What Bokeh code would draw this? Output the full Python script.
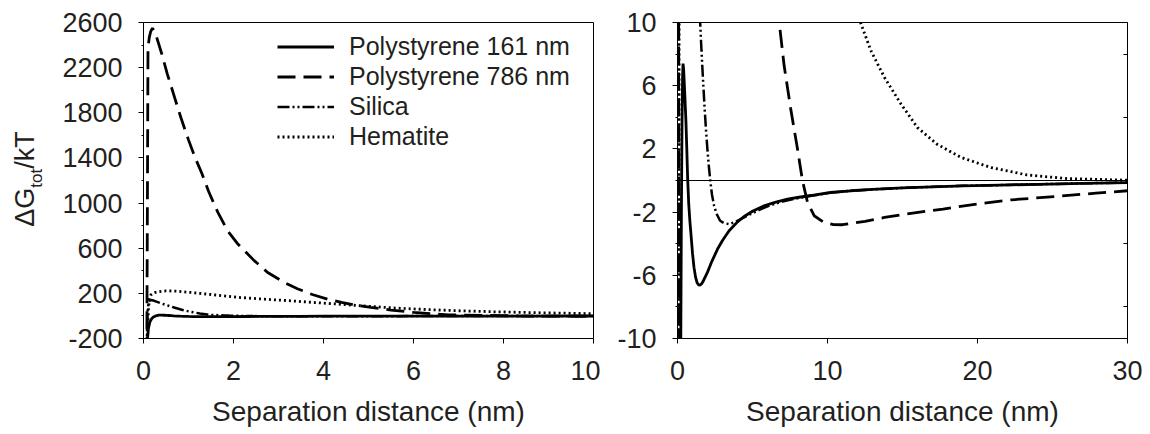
from bokeh.embed import file_html
from bokeh.layouts import row
from bokeh.models import (ColumnDataSource, Div, FixedTicker, Legend,
                          LegendItem, LinearAxis, Range1d, Span)
from bokeh.plotting import figure
from bokeh.resources import INLINE

# Total interaction energy (ΔG_tot / kT) against separation distance (nm)

ps161_x = [0.05, 0.07, 0.09, 0.11, 0.14, 0.18, 0.22, 0.26, 0.30, 0.34, 0.37,
           0.41, 0.46, 0.51, 0.56, 0.62, 0.67, 0.75, 0.82, 0.89, 1.0, 1.1,
           1.2, 1.3, 1.4, 1.5, 1.6, 1.7, 1.8, 1.9, 2.0, 2.3, 2.67, 3.0,
           3.44, 4.0, 4.44, 5.0, 5.78, 6.5, 7.33, 8.1, 8.89, 10.2, 11.55,
           13.0, 15.0, 17.0, 19.0, 21.5, 24.0, 27.0, 30.0]
ps161_y = [-900, -420, -200, -110, -55, -25, -10, -2, 3.5, 6.6, 7.4,
           7.0, 6.0, 4.9, 3.8, 2.0, 0.3, -1.5, -2.5, -3.3, -4.6, -5.5,
           -6.1, -6.45, -6.6, -6.62, -6.55, -6.4, -6.2, -6.0, -5.8, -5.1,
           -4.34, -3.8, -3.18, -2.62, -2.28, -1.95, -1.6, -1.38, -1.18,
           -1.06, -0.95, -0.76, -0.65, -0.56, -0.47, -0.4, -0.34, -0.29,
           -0.24, -0.18, -0.13]

ps786_x = [0.05, 0.07, 0.085, 0.1, 0.13, 0.16, 0.2, 0.27, 0.4, 0.53, 0.68,
           0.83, 1.0, 1.15, 1.3, 1.45, 1.65, 1.87, 2.09, 2.46, 2.76, 3.12,
           3.42, 3.75, 4.09, 4.4, 4.68, 5.05, 5.5, 6.0, 6.4, 6.78, 7.11,
           7.55, 8.0, 8.33, 8.67, 9.11, 9.78, 10.4, 11.0, 11.55, 12.5,
           13.8, 15.2, 16.5, 17.7, 19.7, 22.3, 25.2, 27.9, 30.0]
ps786_y = [-1500, -600, 800, 2380, 2470, 2520, 2550, 2497, 2330, 2143,
           1950, 1758, 1560, 1400, 1260, 1100, 920, 754, 640, 490, 385,
           298, 241, 190, 149, 120, 98, 76, 52, 31, 19, 10, 7.26, 4.52,
           1.99, 0.0, -1.39, -2.23, -2.66, -2.79, -2.8, -2.72, -2.58,
           -2.34, -2.13, -1.96, -1.81, -1.52, -1.22, -1.01, -0.80, -0.65]

silica_x = [0.05, 0.07, 0.09, 0.11, 0.14, 0.17, 0.24, 0.35, 0.5, 0.68,
            0.85, 1.05, 1.25, 1.42, 1.51, 1.6, 1.7, 1.8, 1.9, 2.0, 2.1,
            2.2, 2.3, 2.44, 2.6, 2.84, 3.1, 3.44, 3.8, 4.22, 4.6, 5.11,
            5.6, 6.22, 7.0, 8.0, 8.9, 10.2, 11.55, 13.0, 15.0, 17.0, 19.0,
            21.5, 24.0, 27.0, 30.0]
silica_y = [-1200, -300, 40, 120, 138, 141, 134, 118, 97, 75, 55, 36, 22,
            13, 10, 8.2, 6.4, 4.7, 3.2, 1.9, 0.8, -0.15, -0.9, -1.6, -2.1,
            -2.55, -2.7, -2.76, -2.65, -2.44, -2.25, -2.02, -1.8, -1.56,
            -1.33, -1.12, -0.97, -0.77, -0.65, -0.56, -0.47, -0.4, -0.34,
            -0.29, -0.24, -0.18, -0.13]

hematite_x = [0.05, 0.07, 0.09, 0.11, 0.13, 0.16, 0.2, 0.25, 0.35, 0.5,
              0.7, 1.05, 1.5, 2.16, 2.7, 3.27, 3.8, 4.38, 5.05, 5.6, 6.31,
              7.0, 7.79, 8.8, 10.0, 11.0, 12.2, 12.9, 13.8, 14.9, 16.0,
              17.3, 18.9, 20.9, 23.3, 26.0, 30.0]
hematite_y = [-1500, -500, -120, 60, 150, 185, 198, 207, 216, 222, 220,
              208, 190, 163, 148, 134, 119, 103, 84, 70, 56, 46, 37, 28,
              20, 14.5, 10, 8.2, 6.52, 4.84, 3.35, 2.3, 1.46, 0.82, 0.35,
              0.12, 0.02]

series_names = ["Polystyrene 161 nm", "Polystyrene 786 nm", "Silica", "Hematite"]

left_xticks = [0, 2, 4, 6, 8, 10]
left_yticks = [-200, 200, 600, 1000, 1400, 1800, 2200, 2600]
left_yminor = [0, 400, 800, 1200, 1600, 2000, 2400]
right_xticks = [0, 10, 20, 30]
right_yticks = [-10, -6, -2, 2, 6, 10]
right_yminor = [-8, -4, 0, 4, 8]

FONT = "Liberation Sans"
INK = "#231f20"
H = 434
TOP, BOTTOM = 22, 96

line_styles = [
    dict(line_dash="solid", line_width=2.8),
    dict(line_dash="18 8", line_width=2.8),
    dict(line_dash="12 3 2 3 2 3", line_width=2.5),
    dict(line_dash="2 3", line_width=2.8),
]

sources = [
    ColumnDataSource(dict(x=ps161_x, y=ps161_y)),
    ColumnDataSource(dict(x=ps786_x, y=ps786_y)),
    ColumnDataSource(dict(x=silica_x, y=silica_y)),
    ColumnDataSource(dict(x=hematite_x, y=hematite_y)),
]


def hyphen_labels(ticks):
    # plain hyphen-minus for negative tick labels
    return {t: str(t) for t in ticks if t < 0}


def panel(width, border_left, border_right, x_end, xticks, yr, yticks, yminor):
    p = figure(width=width, height=H, x_range=Range1d(0, x_end),
               y_range=Range1d(*yr), output_backend="svg",
               toolbar_location=None, min_border_left=border_left,
               min_border_right=border_right, min_border_top=TOP,
               min_border_bottom=BOTTOM)
    p.grid.visible = False
    p.outline_line_color = "black"
    p.outline_line_width = 1
    p.background_fill_color = "white"
    p.border_fill_color = "white"

    xa, ya = p.xaxis[0], p.yaxis[0]
    xa.ticker = FixedTicker(ticks=xticks)
    ya.ticker = FixedTicker(ticks=yticks, minor_ticks=yminor)
    ya.major_label_overrides = hyphen_labels(yticks)
    for ax in (xa, ya):
        ax.axis_line_color = "black"
        ax.axis_line_width = 1
        ax.major_tick_line_color = "black"
        ax.major_tick_out = 5
        ax.major_tick_in = 0
        ax.major_label_text_font = FONT
        ax.major_label_text_font_size = "27px"
        ax.major_label_text_color = INK
    xa.major_label_standoff = 17
    ya.major_label_standoff = 16
    xa.minor_tick_line_color = None
    ya.minor_tick_line_color = "black"
    ya.minor_tick_out = 2
    ya.minor_tick_in = 0

    xa.axis_label = "Separation distance (nm)"
    xa.axis_label_text_font = FONT
    xa.axis_label_text_font_size = "28px"
    xa.axis_label_text_font_style = "normal"
    xa.axis_label_text_color = INK
    xa.axis_label_standoff = 13

    renderers = []
    for src, st in zip(sources, line_styles):
        r = p.line("x", "y", source=src, line_color="black", **st)
        renderers.append(r)
    return p, renderers


# Left panel: full energy range
p1, r1 = panel(550, 93, 7, 10, left_xticks, (-200, 2600), left_yticks, left_yminor)

legend = Legend(
    items=[LegendItem(label=n, renderers=[r]) for n, r in zip(series_names, r1)],
    location=(134, 187), orientation="vertical",
    glyph_width=57, glyph_height=29, label_height=29, label_standoff=15,
    spacing=1, padding=0, margin=0, border_line_color=None,
    background_fill_alpha=0, label_text_font=FONT,
    label_text_font_size="25px", label_text_color=INK)
p1.add_layout(legend)

# Vertical y-axis title with subscript
ylabel = Div(
    text=(
        '<div style="position:absolute; left:25px; top:179px; '
        'transform:translate(-50%,-50%) rotate(-90deg); white-space:nowrap; '
        f'font-family:\'{FONT}\'; font-size:27px; line-height:1; color:{INK};">'
        'ΔG<span style="font-size:17px; position:relative; top:8px;">tot</span>/kT'
        '</div>'
    ),
    width=50, height=H, margin=(0, 0, 0, 0),
    styles={"position": "relative", "overflow": "visible"},
)

# Right panel: close-up around zero
p2, r2 = panel(550, 77, 23, 30, right_xticks, (-10, 10), right_yticks, right_yminor)
p2.add_layout(Span(location=0, dimension="width", line_color="black",
                   line_width=1))
ra = LinearAxis(ticker=FixedTicker(ticks=right_yminor), major_tick_in=4,
                major_tick_out=0, major_tick_line_color="black",
                minor_tick_line_color=None, axis_line_color="black",
                major_label_overrides={t: "" for t in right_yminor},
                major_label_text_font_size="1px", major_label_standoff=0)
p2.add_layout(ra, "right")

layout = row(ylabel, p1, p2)
open("out.html", "w").write(file_html(layout, INLINE))
